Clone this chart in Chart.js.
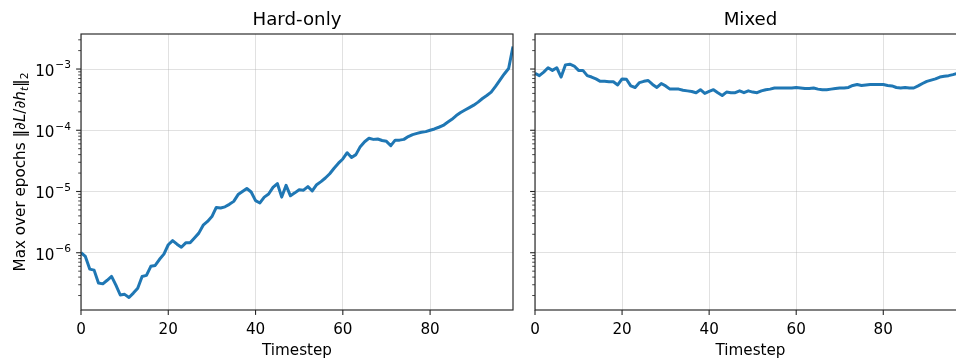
<!DOCTYPE html>
<html>
<head>
<meta charset="utf-8">
<script src="https://cdn.jsdelivr.net/npm/chart.js@4.4.1/dist/chart.umd.min.js"></script>
<style>
  html, body { margin: 0; padding: 0; width: 956px; height: 359px; overflow: hidden; background: #fff; }
  #wrap { position: relative; width: 956px; height: 359px; overflow: hidden; }
  canvas { position: absolute; top: 0; }
  #hard { left: 0; width: 520px; height: 359px; }
  #mixed { left: 520px; width: 460px; height: 359px; }
</style>
</head>
<body>
<div id="wrap">
  <canvas id="hard" width="520" height="359"></canvas>
  <canvas id="mixed" width="460" height="359"></canvas>
</div>
<script>
// ---- data -------------------------------------------------------------
const panelTitles = ['Hard-only', 'Mixed'];
const xLabel = 'Timestep';
const timesteps = Array.from({ length: 100 }, (_, i) => i);

// max over epochs of the gradient norm, per timestep
const hardOnly = [
  1.00e-6, 8.7e-7, 5.4e-7, 5.2e-7, 3.2e-7, 3.1e-7, 3.55e-7, 4.1e-7, 2.95e-7, 2.04e-7,
  2.09e-7, 1.86e-7, 2.19e-7, 2.63e-7, 4.1e-7, 4.27e-7, 6.0e-7, 6.2e-7, 7.8e-7, 9.5e-7,
  1.35e-6, 1.58e-6, 1.38e-6, 1.23e-6, 1.45e-6, 1.45e-6, 1.74e-6, 2.09e-6, 2.82e-6, 3.24e-6,
  3.89e-6, 5.5e-6, 5.37e-6, 5.62e-6, 6.17e-6, 6.9e-6, 8.9e-6, 1.0e-5, 1.12e-5, 9.8e-6,
  7.1e-6, 6.5e-6, 8.1e-6, 9.1e-6, 1.17e-5, 1.35e-5, 8.1e-6, 1.26e-5, 8.5e-6, 9.5e-6,
  1.07e-5, 1.05e-5, 1.20e-5, 1.02e-5, 1.29e-5, 1.45e-5, 1.66e-5, 1.95e-5, 2.4e-5, 2.9e-5,
  3.4e-5, 4.3e-5, 3.6e-5, 4.0e-5, 5.4e-5, 6.5e-5, 7.4e-5, 7.1e-5, 7.2e-5, 6.8e-5,
  6.6e-5, 5.6e-5, 6.9e-5, 6.9e-5, 7.1e-5, 7.9e-5, 8.5e-5, 8.9e-5, 9.3e-5, 9.5e-5,
  1.0e-4, 1.05e-4, 1.12e-4, 1.20e-4, 1.35e-4, 1.51e-4, 1.74e-4, 1.95e-4, 2.14e-4, 2.34e-4,
  2.57e-4, 2.88e-4, 3.3e-4, 3.7e-4, 4.2e-4, 5.2e-4, 6.6e-4, 8.3e-4, 1.02e-3, 2.33e-3
];

const mixed = [
  8.5e-4, 7.8e-4, 8.9e-4, 1.05e-3, 9.5e-4, 1.05e-3, 7.4e-4, 1.17e-3, 1.20e-3, 1.12e-3,
  9.5e-4, 9.5e-4, 7.8e-4, 7.4e-4, 6.9e-4, 6.3e-4, 6.3e-4, 6.2e-4, 6.2e-4, 5.5e-4,
  6.9e-4, 6.8e-4, 5.3e-4, 5.0e-4, 6.0e-4, 6.3e-4, 6.5e-4, 5.6e-4, 5.0e-4, 5.8e-4,
  5.3e-4, 4.7e-4, 4.7e-4, 4.7e-4, 4.5e-4, 4.4e-4, 4.3e-4, 4.1e-4, 4.6e-4, 4.0e-4,
  4.3e-4, 4.6e-4, 4.1e-4, 3.7e-4, 4.2e-4, 4.1e-4, 4.1e-4, 4.4e-4, 4.1e-4, 4.4e-4,
  4.2e-4, 4.1e-4, 4.4e-4, 4.6e-4, 4.7e-4, 4.9e-4, 4.9e-4, 4.9e-4, 4.9e-4, 4.9e-4,
  5.0e-4, 4.9e-4, 4.8e-4, 4.8e-4, 4.9e-4, 4.7e-4, 4.6e-4, 4.6e-4, 4.7e-4, 4.8e-4,
  4.9e-4, 4.9e-4, 5.0e-4, 5.4e-4, 5.6e-4, 5.4e-4, 5.5e-4, 5.6e-4, 5.6e-4, 5.6e-4,
  5.6e-4, 5.4e-4, 5.3e-4, 5.0e-4, 4.9e-4, 5.0e-4, 4.9e-4, 4.9e-4, 5.3e-4, 5.8e-4,
  6.3e-4, 6.6e-4, 6.9e-4, 7.4e-4, 7.6e-4, 7.8e-4, 8.1e-4, 8.5e-4, 8.7e-4, 9.1e-4
];

const xTicks = [0, 20, 40, 60, 80];
const yDecades = [-7, -6, -5, -4, -3, -2];

// ---- styling ----------------------------------------------------------
const FONT = '"DejaVu Sans", sans-serif';
const INK = '#000';
const SPINE = '#262626';
const LINE = '#1f77b4';
const GRID = 'rgba(176,176,176,0.38)';
const TICK_PX = 15.2;
const TITLE_PX = 18.2;

// shared y range: 5% margin in log space around both series
const allLogs = hardOnly.concat(mixed).map(v => Math.log10(v));
const lo = Math.min(...allLogs), hi = Math.max(...allLogs);
const span = hi - lo;
const yMin = Math.pow(10, lo - 0.05 * span);
const yMax = Math.pow(10, hi + 0.05 * span);

// major (10^n) and minor (k*10^n) tick values inside the range
const yTickList = [];
yDecades.forEach(e => {
  for (let k = 1; k <= 9; k++) {
    const v = k * Math.pow(10, e);
    if (v >= yMin && v <= yMax) yTickList.push({ value: v, major: k === 1, exp: e });
  }
});

// frame, tick marks, tick labels and titles
const decorations = {
  id: 'decorations',
  afterDraw(chart, args, opts) {
    const { ctx, chartArea: a, scales: { x, y } } = chart;
    ctx.save();

    // y tick marks
    ctx.strokeStyle = SPINE;
    yTickList.forEach(t => {
      const py = y.getPixelForValue(t.value);
      const len = t.major ? 4.9 : 2.8;
      ctx.lineWidth = t.major ? 1.1 : 0.85;
      ctx.beginPath();
      ctx.moveTo(a.left - len, py);
      ctx.lineTo(a.left, py);
      ctx.stroke();
    });

    // x tick marks
    ctx.lineWidth = 1.1;
    xTicks.forEach(v => {
      const px = x.getPixelForValue(v);
      ctx.beginPath();
      ctx.moveTo(px, a.bottom);
      ctx.lineTo(px, a.bottom + 4.9);
      ctx.stroke();
    });

    // frame
    ctx.lineWidth = 1.15;
    ctx.strokeRect(a.left, a.top, a.right - a.left, a.bottom - a.top);

    ctx.fillStyle = INK;

    // x tick labels
    ctx.font = `${TICK_PX}px ${FONT}`;
    ctx.textAlign = 'center';
    ctx.textBaseline = 'alphabetic';
    xTicks.forEach(v => ctx.fillText(String(v), x.getPixelForValue(v), 333.5));

    // x axis title
    const cx = (a.left + a.right) / 2;
    ctx.fillText(xLabel, cx, 354.5);

    // panel title
    ctx.font = `${TITLE_PX}px ${FONT}`;
    ctx.fillText(opts.title, cx, 25);

    if (opts.yLabels) {
      // y tick labels as 10 with a raised exponent
      const supPx = TICK_PX * 0.7;
      const right = a.left - 10;
      yTickList.filter(t => t.major).forEach(t => {
        const py = y.getPixelForValue(t.value);
        const sup = (t.exp < 0 ? '\u2212' : '') + Math.abs(t.exp);
        ctx.textAlign = 'right';
        ctx.font = `${supPx}px ${FONT}`;
        const supW = ctx.measureText(sup).width;
        ctx.fillText(sup, right, py - 0.6);
        ctx.font = `${TICK_PX}px ${FONT}`;
        ctx.fillText('10', right - supW - 0.8, py + 7);
      });

      // rotated y axis title with math-style parts
      const parts = [
        { t: 'Max over epochs ', style: '' },
        { t: '\u2016\u2202', style: '' },
        { t: 'L', style: 'italic ' },
        { t: '/\u2202', style: '' },
        { t: 'h', style: 'italic ' },
        { t: 't', style: 'italic ', sub: true },
        { t: '\u2016', style: '' },
        { t: '2', style: '', sub: true }
      ];
      const fontOf = p => `${p.style}${p.sub ? TICK_PX * 0.7 : TICK_PX}px ${FONT}`;
      let total = 0;
      parts.forEach(p => { ctx.font = fontOf(p); p.w = ctx.measureText(p.t).width; total += p.w; });
      const cy = (a.top + a.bottom) / 2;
      ctx.translate(25, cy + total / 2);
      ctx.rotate(-Math.PI / 2);
      ctx.textAlign = 'left';
      let px = 0;
      parts.forEach(p => {
        ctx.font = fontOf(p);
        ctx.fillText(p.t, px, p.sub ? 3.3 : 0);
        px += p.w;
      });
    }
    ctx.restore();
  }
};

function makeChart(id, values, title, yLabels, padRight, yWidth) {
  return new Chart(document.getElementById(id), {
    type: 'line',
    data: {
      datasets: [{
        data: timesteps.map((t, i) => ({ x: t, y: values[i] })),
        borderColor: LINE,
        borderWidth: 3,
        borderJoinStyle: 'round',
        borderCapStyle: 'butt',
        pointRadius: 0,
        tension: 0,
        fill: false
      }]
    },
    options: {
      responsive: false,
      animation: false,
      devicePixelRatio: 1,
      layout: { padding: { left: 0, right: padRight, top: 34, bottom: 0 } },
      plugins: {
        legend: { display: false },
        tooltip: { enabled: false },
        title: { display: false },
        decorations: { title: title, yLabels: yLabels }
      },
      scales: {
        x: {
          type: 'linear',
          min: 0,
          max: timesteps[timesteps.length - 1],
          afterBuildTicks: s => { s.ticks = xTicks.map(v => ({ value: v })); },
          afterFit: s => { s.height = 49; },
          ticks: { display: false },
          grid: { color: GRID, lineWidth: 1, drawTicks: false },
          border: { display: false }
        },
        y: {
          type: 'logarithmic',
          min: yMin,
          max: yMax,
          afterBuildTicks: s => { s.ticks = yTickList.map(t => ({ value: t.value, major: t.major })); },
          afterFit: s => { s.width = yWidth; },
          ticks: { display: false },
          grid: {
            color: c => (c.tick && c.tick.major ? GRID : 'rgba(0,0,0,0)'),
            lineWidth: 1,
            drawTicks: false
          },
          border: { display: false }
        }
      }
    },
    plugins: [decorations]
  });
}

makeChart('hard', hardOnly, panelTitles[0], true, 7, 81);
makeChart('mixed', mixed, panelTitles[1], false, 14, 15);
</script>
</body>
</html>
